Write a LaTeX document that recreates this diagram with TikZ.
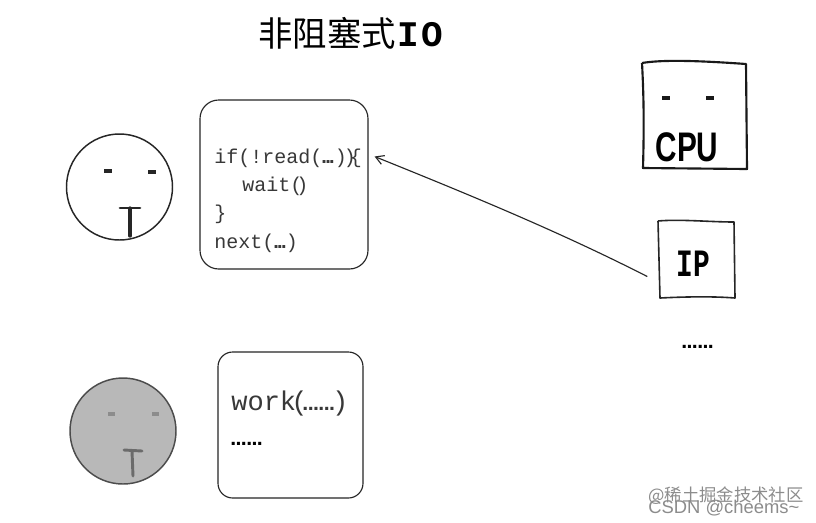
\documentclass[tikz,border=0pt]{standalone}
\usepackage{fontspec}
\setmainfont{Liberation Sans}
\setmonofont{Liberation Mono}
\newfontfamily\cjk{Noto Sans CJK SC}
\usetikzlibrary{arrows.meta}
% three tight dots (code box) and six heavy dots
\newcommand{\threedots}{{\rmfamily\bfseries\fontsize{15}{15}\selectfont .\kern-1.2pt.\kern-1.2pt.}}
\newcommand{\sixdots}{{\rmfamily\bfseries\fontsize{16}{16}\selectfont .\kern-0.45pt.\kern-0.45pt.\kern-0.45pt.\kern-0.45pt.\kern-0.45pt.}}
\tikzset{
  x=0.75pt,y=-0.75pt,
  face/.style={circle,draw=#1,line width=1.1pt,minimum size=79.5pt,inner sep=0pt},
  softbox/.style={draw=black!85,line width=0.85pt,rounded corners=14pt,inner sep=0pt},
  handnode/.style={inner sep=0pt},
  codeline/.style={font=\ttfamily\fontsize{15}{15}\selectfont,inner sep=0pt,anchor=base west,text=black!78},
  dotsline/.style={inner sep=0pt,anchor=base west,text=black},
  eyeA/.style={line width=2.4pt,black!85},
  eyeB/.style={line width=2.6pt,black!45},
  mouthB/.style={line width=2.2pt,black!58,line cap=round},
  wm/.style={inner sep=0pt,anchor=west,text=black!45},
}
\begin{document}
\begin{tikzpicture}
\useasboundingbox[fill=white] (0,0) rectangle (816,522);

% title
\node[inner sep=0pt,anchor=base west] (title) at (258,46) {{\cjk\fontsize{25.8}{25.8}\selectfont 非阻塞式}{\ttfamily\bfseries\fontsize{27}{27}\selectfont\kern1pt I\kern2pt O}};

% upper face
\node[face=black!85,fill=white] (face1) at (119.5,187) {};
\draw[eyeA] (104,171) -- (112,171);
\draw[eyeA] (148,172) -- (156,172);
\draw[line width=2pt,black!85,line cap=round] (120,208) -- (140,208);
\draw[line width=2.4pt,black!85,line cap=round] (130,208) -- (130,236);

% lower face
\node[face=black!70,fill=black!28] (face2) at (123,431) {};
\draw[eyeB] (108,414) -- (115,414);
\draw[eyeB] (152,414) -- (159,414);
\draw[mouthB] (124,450) -- (142,451);
\draw[mouthB] (132,451) -- (133,476);

% code boxes
\node[softbox,minimum width=126pt,minimum height=126.75pt] (box1) at (284,184.5) {};
\node[codeline] (code1) at (214,163) {if(!read(\kern-0.75pt\threedots)\kern-2.25pt)\kern-4.5pt\{};
\node[codeline] (code2) at (242,191.4) {wait(\kern-4.5pt)};
\node[codeline] (code3) at (214,219.8) {\}};
\node[codeline] (code4) at (214,248.2) {next(\kern-0.75pt\threedots\kern-0.75pt)};

\node[softbox,minimum width=108.75pt,minimum height=109.5pt,rounded corners=11pt] (box2) at (290.5,425) {};
\node[codeline,font=\ttfamily\fontsize{20.3}{20.3}\selectfont] (work) at (231,410) {work\kern-3.75pt(\kern-3.75pt\sixdots\kern-2.25pt)};
\node[dotsline] (more1) at (230,445) {\sixdots};

% CPU box
\node[handnode,minimum width=78pt,minimum height=80pt] (cpu) at (694.5,115.5) {};
\draw[line width=1.6pt,black!90,line join=round] (642,63) .. controls (660,60) and (690,60) .. (746,64) -- (747,169) -- (643,168) .. controls (644,130) and (644,100) .. (642,63);
\draw[line width=2.6pt,black!90] (662,98) -- (670,98);
\draw[line width=2.6pt,black!90] (706,98) -- (714,98);
\node[inner sep=0pt,anchor=center,xscale=.72,font=\bfseries\fontsize{31}{31}\selectfont] (cputext) at (687,147) {CPU};

% IP box
\node[handnode,minimum width=57pt,minimum height=58pt] (ip) at (696.5,259.5) {};
\draw[line width=1.2pt,black!85,line join=round] (658,221) .. controls (680,219) and (710,222) .. (734,222) -- (735,298) .. controls (710,296) and (680,297) .. (660,298) -- (658,221);
\node[inner sep=0pt,anchor=center,xscale=.72,font=\ttfamily\bfseries\fontsize{29}{29}\selectfont] (iptext) at (693,264) {IP};

\node[dotsline] (more2) at (681,348) {\sixdots};

% connector
\draw[line width=0.85pt,black!85,-{Straight Barb[length=6pt,width=8pt,angle'=60]}]
  ([shift={(-11,17)}]ip.west) .. controls (560,232) and (470,195) .. ([shift={(6,-28)}]box1.east);

% watermark
\node[wm,font=\fontsize{13.8}{13.8}\selectfont] (wm1) at (648,508) {CSDN @cheems\char`\~};
\node[wm,font=\cjk\fontsize{13}{13}\selectfont] (wm2) at (648,496) {@稀土掘金技术社区};
\end{tikzpicture}
\end{document}
